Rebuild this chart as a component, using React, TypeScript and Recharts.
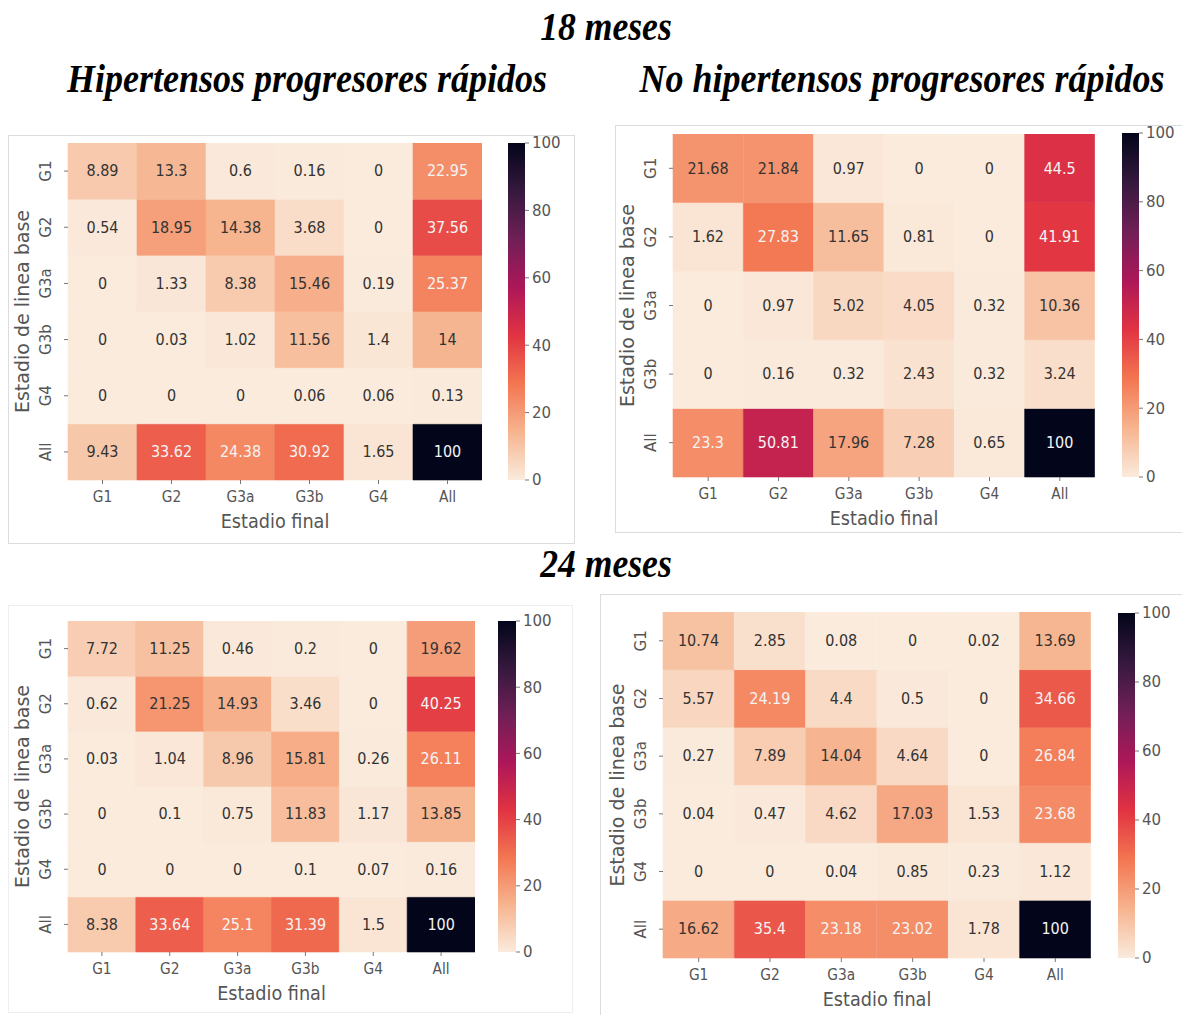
import React from 'react';
import { BarChart, Bar, XAxis, YAxis, Cell, LabelList } from 'recharts';

// final stage (columns) and baseline stage (rows)
const finalStages = ['G1', 'G2', 'G3a', 'G3b', 'G4', 'All'];
const baseStages = ['G1', 'G2', 'G3a', 'G3b', 'G4', 'All'];
const baseStagesNoG4 = ['G1', 'G2', 'G3a', 'G3b', 'All'];
const colorbarTicks = [0, 20, 40, 60, 80, 100];

// 18 meses
const hip18 = [
  [8.89, 13.3, 0.6, 0.16, 0, 22.95],
  [0.54, 18.95, 14.38, 3.68, 0, 37.56],
  [0, 1.33, 8.38, 15.46, 0.19, 25.37],
  [0, 0.03, 1.02, 11.56, 1.4, 14],
  [0, 0, 0, 0.06, 0.06, 0.13],
  [9.43, 33.62, 24.38, 30.92, 1.65, 100],
];
const noHip18 = [
  [21.68, 21.84, 0.97, 0, 0, 44.5],
  [1.62, 27.83, 11.65, 0.81, 0, 41.91],
  [0, 0.97, 5.02, 4.05, 0.32, 10.36],
  [0, 0.16, 0.32, 2.43, 0.32, 3.24],
  [23.3, 50.81, 17.96, 7.28, 0.65, 100],
];

// 24 meses
const hip24 = [
  [7.72, 11.25, 0.46, 0.2, 0, 19.62],
  [0.62, 21.25, 14.93, 3.46, 0, 40.25],
  [0.03, 1.04, 8.96, 15.81, 0.26, 26.11],
  [0, 0.1, 0.75, 11.83, 1.17, 13.85],
  [0, 0, 0, 0.1, 0.07, 0.16],
  [8.38, 33.64, 25.1, 31.39, 1.5, 100],
];
const noHip24 = [
  [10.74, 2.85, 0.08, 0, 0.02, 13.69],
  [5.57, 24.19, 4.4, 0.5, 0, 34.66],
  [0.27, 7.89, 14.04, 4.64, 0, 26.84],
  [0.04, 0.47, 4.62, 17.03, 1.53, 23.68],
  [0, 0, 0.04, 0.85, 0.23, 1.12],
  [16.62, 35.4, 23.18, 23.02, 1.78, 100],
];

// seaborn "rocket_r" anchors (value 0..100 -> colour)
const ROCKET_R: [number, string][] = [
  [0, '#faebdd'],
  [14.29, '#f6b48f'],
  [28.57, '#f37651'],
  [42.86, '#e13342'],
  [57.14, '#ad1759'],
  [71.43, '#701f57'],
  [85.71, '#35193e'],
  [100, '#03051a'],
];

const hexToRgb = (h: string) => [1, 3, 5].map((i) => parseInt(h.slice(i, i + 2), 16));

function rocketR(v: number): string {
  for (let k = 0; k < ROCKET_R.length - 1; k++) {
    const [v0, c0] = ROCKET_R[k];
    const [v1, c1] = ROCKET_R[k + 1];
    if (v <= v1) {
      const t = Math.max(0, (v - v0) / (v1 - v0));
      const a = hexToRgb(c0);
      const b = hexToRgb(c1);
      const rgb = a.map((x, i) => Math.round(x + (b[i] - x) * t));
      return `rgb(${rgb.join(',')})`;
    }
  }
  return ROCKET_R[ROCKET_R.length - 1][1];
}

// same rule seaborn uses for annotation colour
function textColor(fill: string): string {
  const rgb = fill.match(/\d+/g)!.map((s) => Number(s) / 255);
  const lin = rgb.map((c) => (c <= 0.03928 ? c / 12.92 : Math.pow((c + 0.055) / 1.055, 2.4)));
  const lum = lin[0] * 0.2126 + lin[1] * 0.7152 + lin[2] * 0.0722;
  return lum > 0.408 ? '#333' : '#f4f4f4';
}

const FONT = 'DejaVu Sans';
const GREY = '#555';
const Y_AXIS_W = 80;
const X_AXIS_H = 60;

type Box = { x: number; y: number; w: number; h: number };

function Heatmap({ rows, values, box, cbar }: { rows: string[]; values: number[][]; box: Box; cbar: Box }) {
  const n = rows.length;
  const data = finalStages.map((col) => {
    const d: Record<string, any> = { col };
    rows.forEach((_, i) => {
      d['r' + i] = 1;
    });
    return d;
  });
  const stackOrder = rows.map((_, i) => n - 1 - i); // bottom row first
  const yTicks = rows.map((_, k) => k + 0.5);

  const annot = (p: any, v: number, fill: string) => {
    const vb = p.viewBox || {};
    const x = (p.x ?? vb.x) + (p.width ?? vb.width) / 2;
    const y = (p.y ?? vb.y) + (p.height ?? vb.height) / 2;
    return (
      <text
        transform={`translate(${x},${y}) scale(0.9,1)`}
        textAnchor="middle"
        dominantBaseline="central"
        fontFamily={FONT}
        fontSize={16}
        fill={textColor(fill)}
      >
        {String(v)}
      </text>
    );
  };

  return (
    <>
      <div style={{ position: 'absolute', left: box.x - Y_AXIS_W, top: box.y }}>
        <BarChart
          width={box.w + Y_AXIS_W}
          height={box.h + X_AXIS_H}
          data={data}
          margin={{ top: 0, right: 0, bottom: 0, left: 0 }}
          barCategoryGap={0}
          barGap={0}
        >
          <XAxis
            dataKey="col"
            interval={0}
            height={X_AXIS_H}
            axisLine={false}
            tickSize={4}
            tickLine={{ stroke: '#777' }}
            tick={(p: any) => (
              <text
                transform={`translate(${p.x},${box.h + 17}) scale(0.92,1)`}
                textAnchor="middle"
                dominantBaseline="central"
                fontFamily={FONT}
                fontSize={15}
                fill={GREY}
              >
                {p.payload.value}
              </text>
            )}
            label={() => (
              <text
                transform={`translate(${Y_AXIS_W + box.w / 2},${box.h + 41}) scale(0.93,1)`}
                textAnchor="middle"
                dominantBaseline="central"
                fontFamily={FONT}
                fontSize={19}
                fill={GREY}
              >
                Estadio final
              </text>
            )}
          />
          <YAxis
            type="number"
            domain={[0, n]}
            ticks={yTicks}
            width={Y_AXIS_W}
            axisLine={false}
            tickSize={4}
            tickLine={{ stroke: '#777' }}
            tick={(p: any) => (
              <text
                transform={`translate(${Y_AXIS_W - 22},${p.y}) rotate(-90)`}
                textAnchor="middle"
                dominantBaseline="central"
                fontFamily={FONT}
                fontSize={15}
                fill={GREY}
              >
                {rows[n - 1 - Math.floor(p.payload.value)]}
              </text>
            )}
            label={() => (
              <text
                transform={`translate(${Y_AXIS_W - 46},${box.h / 2}) rotate(-90)`}
                textAnchor="middle"
                dominantBaseline="central"
                fontFamily={FONT}
                fontSize={19}
                fill={GREY}
              >
                Estadio de linea base
              </text>
            )}
          />
          {stackOrder.map((i) => (
            <Bar key={i} dataKey={'r' + i} stackId="cells" isAnimationActive={false}>
              {finalStages.map((_, j) => {
                const c = rocketR(values[i][j]);
                return <Cell key={j} fill={c} stroke={c} strokeWidth={0.6} />;
              })}
              <LabelList
                dataKey={'r' + i}
                content={(p: any) => annot(p, values[i][p.index], rocketR(values[i][p.index]))}
              />
            </Bar>
          ))}
        </BarChart>
      </div>
      <div style={{ position: 'absolute', left: cbar.x, top: cbar.y - 10 }}>
        <BarChart
          width={cbar.w + 60}
          height={cbar.h + 20}
          data={[{ name: 'cb', v: colorbarTicks[colorbarTicks.length - 1] }]}
          margin={{ top: 10, right: 0, bottom: 10, left: 0 }}
          barCategoryGap={0}
        >
          <XAxis dataKey="name" hide />
          <YAxis
            orientation="right"
            type="number"
            domain={[0, 100]}
            ticks={colorbarTicks}
            width={60}
            axisLine={false}
            tickSize={4}
            tickMargin={3}
            tickLine={{ stroke: '#777' }}
            tick={{ fontSize: 15, fill: GREY, fontFamily: FONT }}
          />
          <Bar dataKey="v" fill="url(#rocketR)" isAnimationActive={false} />
        </BarChart>
      </div>
    </>
  );
}

const titleStyle = {
  fontFamily: 'Liberation Serif',
  fontWeight: 'bold' as const,
  fontStyle: 'italic' as const,
  fontSize: 40,
  fill: '#000',
  textAnchor: 'middle' as const,
};

export default function App() {
  return (
    <div style={{ position: 'absolute', left: 0, top: 0, width: 1182, height: 1015, background: '#fff', overflow: 'hidden' }}>
      <svg width={1182} height={1015} style={{ position: 'absolute', left: 0, top: 0 }}>
        <defs>
          <linearGradient id="rocketR" x1="0" y1="0" x2="0" y2="1">
            {[...ROCKET_R].reverse().map(([v, c]) => (
              <stop key={v} offset={`${100 - v}%`} stopColor={c} />
            ))}
          </linearGradient>
        </defs>
        {/* panel frames */}
        <rect x={8.5} y={135.5} width={566} height={408} fill="none" stroke="#dcdcdc" />
        <rect x={615.5} y={125.5} width={600} height={407} fill="none" stroke="#dcdcdc" />
        <rect x={8.5} y={605.5} width={564} height={407} fill="none" stroke="#eeeeee" />
        <rect x={600.5} y={594.5} width={600} height={440} fill="none" stroke="#dcdcdc" />
        <text {...titleStyle} transform="translate(606,40) scale(0.89,1)">
          18 meses
        </text>
        <text {...titleStyle} transform="translate(307,92) scale(0.9,1)">
          Hipertensos progresores rápidos
        </text>
        <text {...titleStyle} transform="translate(902,92) scale(0.9,1)">
          No hipertensos progresores rápidos
        </text>
        <text {...titleStyle} transform="translate(606,577) scale(0.89,1)">
          24 meses
        </text>
      </svg>
      <Heatmap rows={baseStages} values={hip18} box={{ x: 68, y: 143, w: 414, h: 337 }} cbar={{ x: 508, y: 143, w: 17, h: 337 }} />
      <Heatmap rows={baseStagesNoG4} values={noHip18} box={{ x: 673, y: 134, w: 422, h: 343 }} cbar={{ x: 1122, y: 133, w: 17, h: 344 }} />
      <Heatmap rows={baseStages} values={hip24} box={{ x: 68, y: 621, w: 407, h: 331 }} cbar={{ x: 498, y: 621, w: 18, h: 331 }} />
      <Heatmap rows={baseStages} values={noHip24} box={{ x: 663, y: 612, w: 428, h: 346 }} cbar={{ x: 1118, y: 613, w: 17, h: 345 }} />
    </div>
  );
}
